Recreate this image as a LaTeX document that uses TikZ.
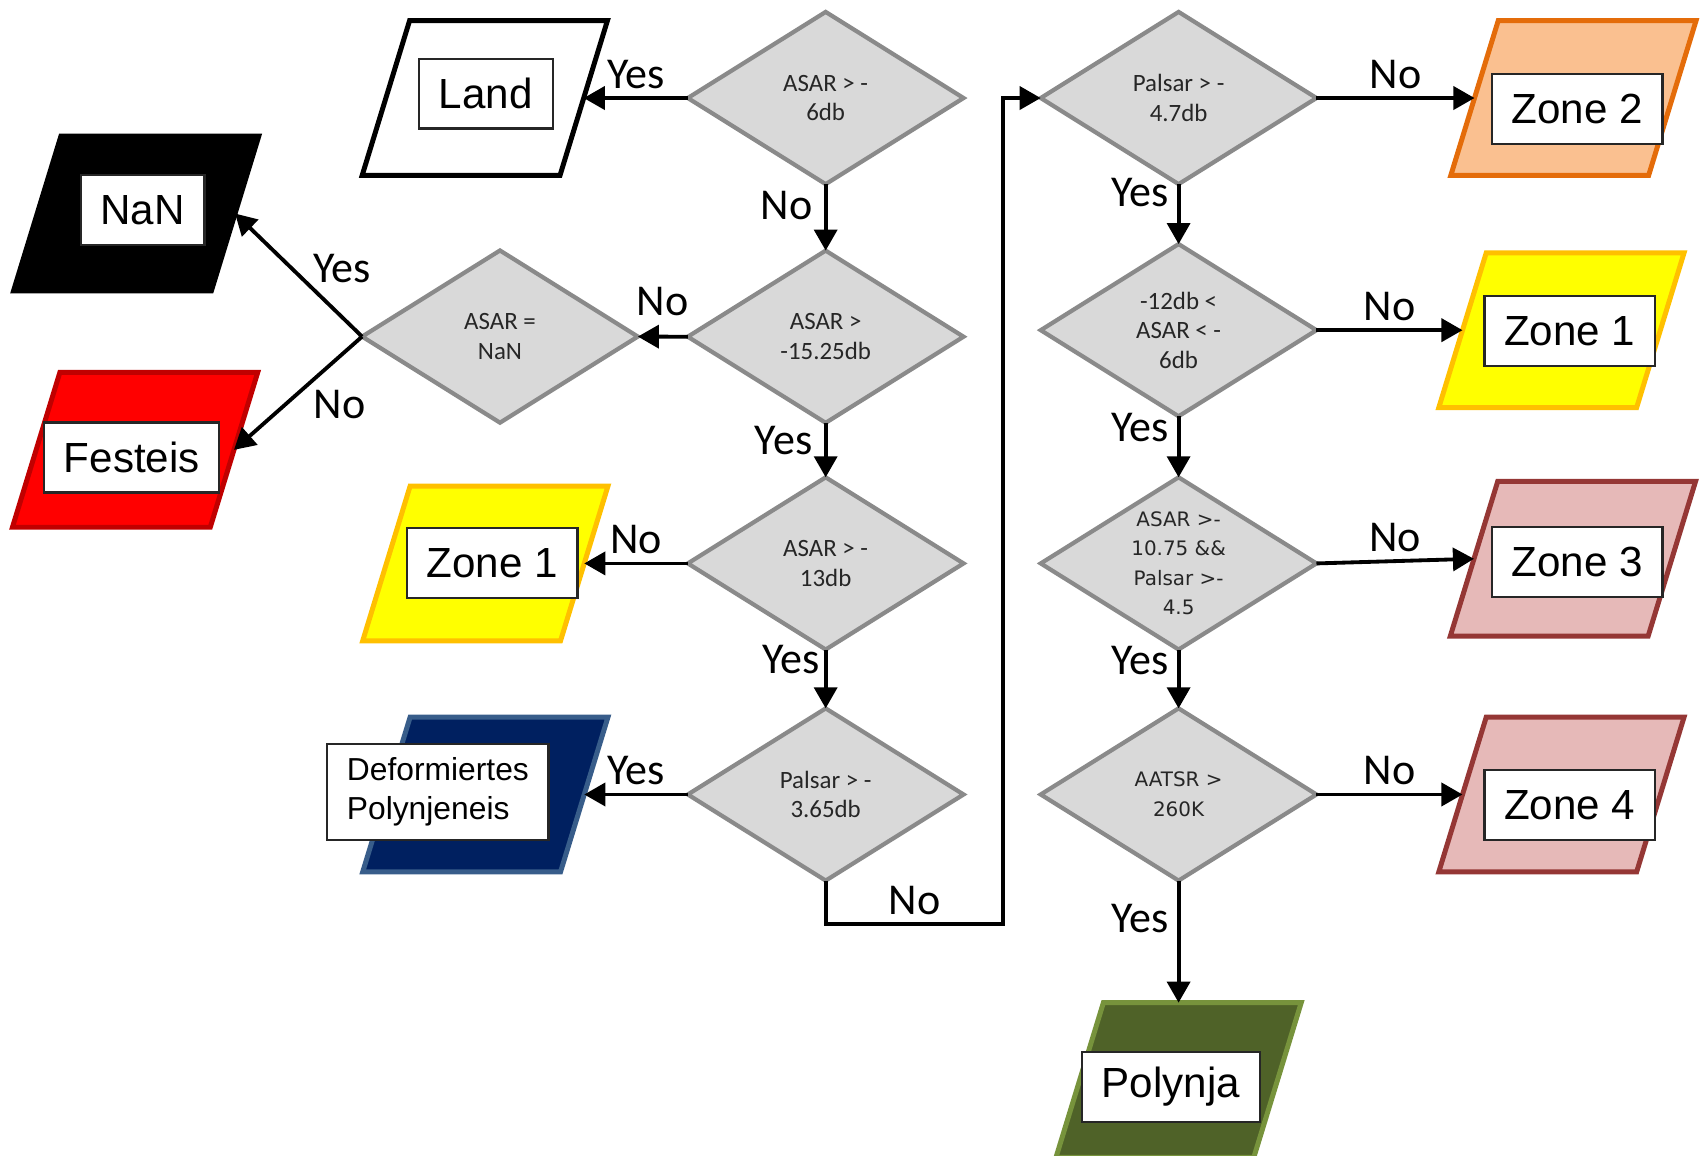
\documentclass[tikz,border=0pt]{standalone}
\usepackage{fontspec}
\setmainfont{Liberation Sans}
\newfontfamily\calfont{Carlito}
\newfontfamily\verfont{DejaVu Sans}
\usetikzlibrary{positioning,arrows.meta,shapes.geometric}

\definecolor{testfill}{HTML}{D9D9D9}
\definecolor{testline}{HTML}{8A8A8A}
\definecolor{festfill}{HTML}{FF0000}
\definecolor{festline}{HTML}{C00000}
\definecolor{zoneAfill}{HTML}{FFFF00}
\definecolor{zoneAline}{HTML}{FFC000}
\definecolor{zoneBfill}{HTML}{FAC090}
\definecolor{zoneBline}{HTML}{E46C0A}
\definecolor{zoneCfill}{HTML}{E6B9B8}
\definecolor{zoneCline}{HTML}{953735}
\definecolor{deffill}{HTML}{002060}
\definecolor{defline}{HTML}{385D8A}
\definecolor{polyfill}{HTML}{4F6228}
\definecolor{polyline}{HTML}{77933C}

\begin{document}
\begin{tikzpicture}[
    x=0.01cm, y=-0.01cm,
    test/.style={diamond, draw=testline, fill=testfill, line width=1.1pt, shape aspect=1.6, inner sep=0pt, outer sep=0pt,
        minimum width=2.53cm, minimum height=1.58cm, align=center, text=black!85,
        font=\calfont\fontsize{6.5}{7.7}\selectfont},
    testwide/.style={test, font=\verfont\fontsize{5.2}{7.7}\selectfont},
    result/.style 2 args={trapezium, trapezium left angle=72.5, trapezium right angle=107.5, trapezium stretches=true,
        minimum width=2.25cm, minimum height=1.42cm, inner sep=2pt, outer sep=0pt, line width=1.3pt, fill=#1, draw=#2},
    tag/.style={draw=black!85, fill=white, line width=0.6pt, minimum height=0.64cm, inner xsep=0.18cm,
        font=\fontsize{11}{13}\selectfont},
    arr/.style={-{Triangle[length=5.5pt,width=6pt]}, line width=1pt},
    ans/.style={font=\calfont\fontsize{11.5}{13}\selectfont, inner sep=1pt},
]
\useasboundingbox (0,0) rectangle (1568,1061);

% Left column: ASAR tests
\node[test] (d1) at (758,90) {ASAR > -\\6db};
\node[test, below=0.61cm of d1] (d2) {ASAR >\\-15.25db};
\node[test, below=0.50cm of d2] (d3) {ASAR > -\\13db};
\node[test, below=0.54cm of d3] (d4) {Palsar > -\\3.65db};
\node[test] (dnan) at (459,309) {ASAR =\\NaN};

% Right column: Palsar / AATSR tests
\node[test] (e1) at (1082,90) {Palsar > -\\4.7db};
\node[test, below=0.55cm of e1] (e2) {-12db <\\ASAR < -\\6db};
\node[testwide, below=0.56cm of e2] (e3) {ASAR >-\\10.75 \&\&\\Palsar >-\\4.5};
\node[testwide, below=0.54cm of e3] (e4) {AATSR >\\260K};

% Classes
\node[result={white}{black}, left=0.955cm of d1] (land) {};
\node[result={black}{black}] (nan) at (125,196) {};
\node[result={festfill}{festline}] (festeis) at (124,413) {};
\node[result={zoneAfill}{zoneAline}, left=0.95cm of d3] (zl1) {};
\node[result={deffill}{defline}, left=0.95cm of d4] (deform) {};
\node[result={zoneBfill}{zoneBline}, right=1.45cm of e1] (z2) {};
\node[result={zoneAfill}{zoneAline}, right=1.34cm of e2] (zr1) {};
\node[result={zoneCfill}{zoneCline}] (z3) at (1444,513) {};
\node[result={zoneCfill}{zoneCline}, right=1.34cm of e4] (z4) {};
\node[result={polyfill}{polyline}, below=1.12cm of e4] (poly) {};

% Class names
\node[tag, minimum width=1.23cm] (landtag) at (446,86) {Land};
\node[tag, minimum width=1.13cm] (nantag) at (131,193) {NaN};
\node[tag] (festtag) at (121,420) {Festeis};
\node[tag] (zl1tag) at (452,517) {Zone 1};
\node[tag, align=left, minimum height=0.88cm, font=\fontsize{8.3}{10}\selectfont] (deftag) at (402,727) {Deformiertes\\Polynjeneis};
\node[tag] (z2tag) at (1448,100) {Zone 2};
\node[tag] (zr1tag) at (1441,304) {Zone 1};
\node[tag] (z3tag) at (1448,516) {Zone 3};
\node[tag] (z4tag) at (1441,739) {Zone 4};
\node[tag] (polytag) at (1075,998) {Polynja};

% Left column arrows
\draw[arr] (d1.west) -- node[ans, above=1pt] {Yes} (land.east);
\draw[arr] (d1.south) -- node[ans, left=2pt, pos=0.32] {No} (d2.north);
\draw[arr] (d2.west) -- node[ans, above=4pt] {No} (dnan.east);
\draw[arr] (dnan.west) -- node[ans, right=4pt, pos=0.55] {Yes} (nan.east);
\draw[arr] (dnan.west) -- node[ans, right=6pt, pos=0.6] {No} (festeis.east);
\draw[arr] (d2.south) -- node[ans, left=2pt, pos=0.33] {Yes} (d3.north);
\draw[arr] (d3.west) -- node[ans, above=1pt] {No} (zl1.east);
\draw[arr] (d3.south) -- node[ans, left=0pt, pos=0.17] {Yes} (d4.north);
\draw[arr] (d4.west) -- node[ans, above=1pt] {Yes} (deform.east);
\draw[arr] (d4.south) -- ++(0,40) -- node[ans, above=1pt] {No} ++(163,0) |- (e1.west);

% Right column arrows
\draw[arr] (e1.east) -- node[ans, above=1pt] {No} (z2.west);
\draw[arr] (e1.south) -- node[ans, left=1pt, pos=0.14] {Yes} (e2.north);
\draw[arr] (e2.east) -- node[ans, above=1pt] {No} (zr1.west);
\draw[arr] (e2.south) -- node[ans, left=1pt, pos=0.18] {Yes} (e3.north);
\draw[arr] (e3.east) -- node[ans, above=1pt] {No} (z3.west);
\draw[arr] (e3.south) -- node[ans, left=1pt, pos=0.19] {Yes} (e4.north);
\draw[arr] (e4.east) -- node[ans, above=1pt] {No} (z4.west);
\draw[arr] (e4.south) -- node[ans, left=1pt, pos=0.31] {Yes} (poly.north);

\end{tikzpicture}
\end{document}
